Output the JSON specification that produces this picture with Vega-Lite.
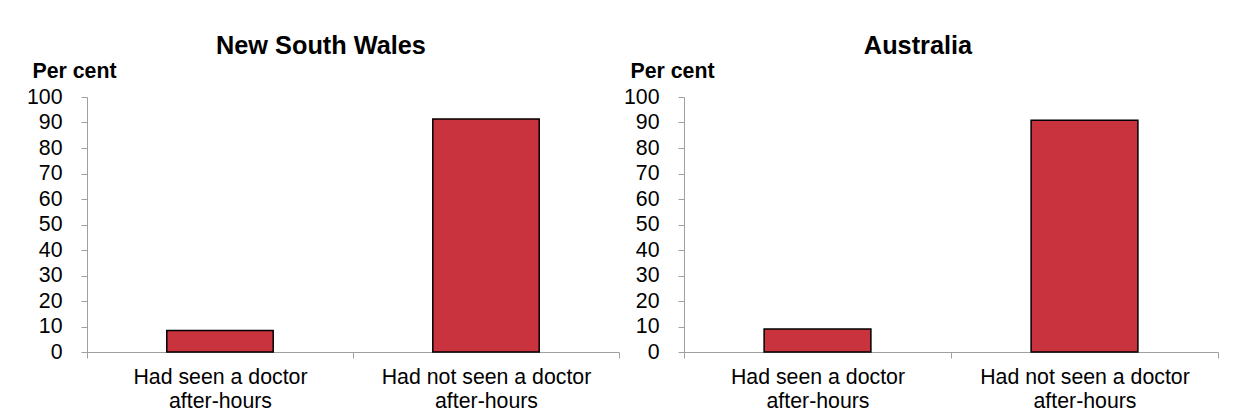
{
  "$schema": "https://vega.github.io/schema/vega-lite/v6.json",
  "padding": {"left": 26, "top": 33, "right": 5, "bottom": 0},
  "background": "white",
  "config": {
    "font": "Liberation Sans",
    "view": {"stroke": null},
    "concat": {"spacing": 3},
    "axis": {
      "domainColor": "#A0A0A0",
      "tickColor": "#A0A0A0",
      "labelColor": "black",
      "labelFont": "Liberation Sans",
      "labelFontSize": 21.3,
      "labelLimit": 0,
      "grid": false
    },
    "title": {"color": "black"}
  },
  "data": {
    "values": [
      {"region": "New South Wales", "category": "Had seen a doctor after-hours", "value": 8.4},
      {"region": "New South Wales", "category": "Had not seen a doctor after-hours", "value": 91.4},
      {"region": "Australia", "category": "Had seen a doctor after-hours", "value": 9.0},
      {"region": "Australia", "category": "Had not seen a doctor after-hours", "value": 90.9}
    ]
  },
  "hconcat": [
    {
      "title": {"text": "New South Wales", "fontSize": 25.3, "fontWeight": "bold", "anchor": "middle", "frame": "bounds", "dx": -2, "offset": 1},
      "transform": [{"filter": "datum.region === 'New South Wales'"}],
      "width": 532,
      "height": 255,
      "mark": {"type": "bar", "fill": "#C9333E", "stroke": "black", "strokeWidth": 1.5, "width": {"band": 0.4}},
      "encoding": {
        "x": {
          "field": "category", "type": "nominal",
          "sort": ["Had seen a doctor after-hours", "Had not seen a doctor after-hours"],
          "scale": {"paddingInner": 0, "paddingOuter": 0},
          "axis": {"title": null, "labelAngle": 0, "tickBand": "extent", "tickSize": 6, "labelPadding": 8, "labelLineHeight": 24,
                   "labelExpr": "split(replace(datum.label, ' after-hours', '|after-hours'), '|')"}
        },
        "y": {
          "field": "value", "type": "quantitative",
          "scale": {"domain": [0, 100]},
          "axis": {"title": "Per cent", "titleAngle": 0, "titleAlign": "left", "titleBaseline": "alphabetic", "titleX": -55, "titleY": -20,
                   "titleFontSize": 21.3, "titleFontWeight": "bold", "titleColor": "black",
                   "values": [0, 10, 20, 30, 40, 50, 60, 70, 80, 90, 100], "tickSize": 6, "labelPadding": 19}
        }
      }
    },
    {
      "title": {"text": "Australia", "fontSize": 25.3, "fontWeight": "bold", "anchor": "middle", "frame": "bounds", "dx": -3, "offset": 1},
      "transform": [{"filter": "datum.region === 'Australia'"}],
      "width": 534,
      "height": 255,
      "mark": {"type": "bar", "fill": "#C9333E", "stroke": "black", "strokeWidth": 1.5, "width": {"band": 0.4}},
      "encoding": {
        "x": {
          "field": "category", "type": "nominal",
          "sort": ["Had seen a doctor after-hours", "Had not seen a doctor after-hours"],
          "scale": {"paddingInner": 0, "paddingOuter": 0},
          "axis": {"title": null, "labelAngle": 0, "tickBand": "extent", "tickSize": 6, "labelPadding": 8, "labelLineHeight": 24,
                   "labelExpr": "split(replace(datum.label, ' after-hours', '|after-hours'), '|')"}
        },
        "y": {
          "field": "value", "type": "quantitative",
          "scale": {"domain": [0, 100]},
          "axis": {"title": "Per cent", "titleAngle": 0, "titleAlign": "left", "titleBaseline": "alphabetic", "titleX": -54, "titleY": -20,
                   "titleFontSize": 21.3, "titleFontWeight": "bold", "titleColor": "black",
                   "values": [0, 10, 20, 30, 40, 50, 60, 70, 80, 90, 100], "tickSize": 6, "labelPadding": 19}
        }
      }
    }
  ]
}
